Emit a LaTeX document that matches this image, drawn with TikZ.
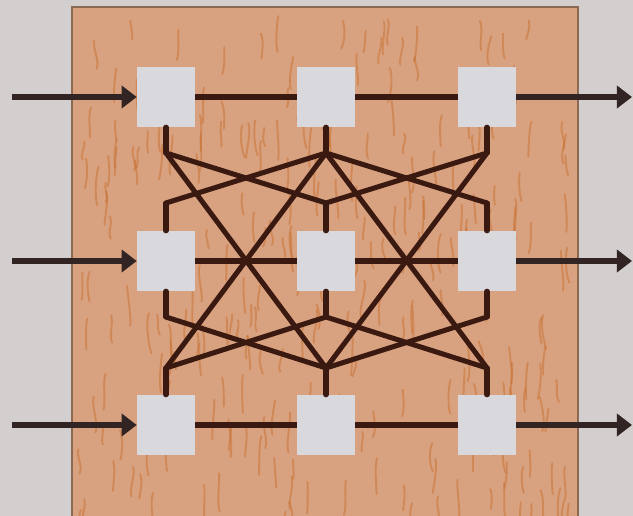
\documentclass[tikz,border=0pt]{standalone}
\usetikzlibrary{arrows.meta}
\definecolor{paper}{HTML}{D3CFCE}
\definecolor{board}{HTML}{D8A17F}
\definecolor{grain}{HTML}{C8702F}
\definecolor{tile}{HTML}{D9D8DC}
\definecolor{wirec}{HTML}{3A1911}
\definecolor{arrowc}{HTML}{332424}
\tikzset{
  cell/.style={fill=tile, minimum width=1.74cm, minimum height=1.8cm, inner sep=0pt},
  wire/.style={wirec, line width=4.3pt, line cap=round, line join=round},
  rowline/.style={wirec, line width=5.5pt},
  feed/.style={arrowc, line width=5.5pt, -{Triangle[length=13pt, width=19pt]}}
}
\begin{document}
\begin{tikzpicture}[x=0.03cm, y=-0.03cm]
  % page and board
  \fill[paper] (0,0) rectangle (633,516);
  \useasboundingbox (0,0) rectangle (633,516);
  \fill[board, draw=black!35!board, line width=1.5pt] (72,7) rectangle (578,530);
  \pgfmathsetseed{11}
  \foreach \k in {1,...,260}{
    \pgfmathsetmacro\sx{78+rnd*495}
    \pgfmathsetmacro\sy{12+rnd*500}
    \draw[grain, opacity=0.5, line width=1.6pt, line cap=round]
      (\sx,\sy) .. controls +(rnd*8-4,8) and +(rnd*8-4,-8) .. +(rnd*6-3,18+rnd*22);
  }
  % cells: row r, column c
  \foreach \r/\y in {1/97,2/261,3/425}
    \foreach \c/\x in {1/166,2/326,3/487}
      \node[cell] (n\r\c) at (\x,\y) {};
  % stub ends
  \foreach \c/\x in {1/166,2/326,3/487}{
    \coordinate (a\c) at (\x,153);
    \coordinate (b\c) at (\x,203);
    \coordinate (e\c) at (\x,317);
    \coordinate (d\c) at (\x,368);
  }
  \coordinate (in1) at (12,97);  \coordinate (out1) at (632,97);
  \coordinate (in2) at (12,261); \coordinate (out2) at (632,261);
  \coordinate (in3) at (12,425); \coordinate (out3) at (632,425);
  % links between the rows
  \foreach \c in {1,2,3}{
    \draw[wire] (n1\c.south) -- (a\c);
    \draw[wire] (n2\c.north) -- (b\c);
    \draw[wire] (n2\c.south) -- (e\c);
    \draw[wire] (n3\c.north) -- (d\c);
  }
  \foreach \i/\j in {1/2,2/1,2/3,3/2}{
    \draw[wire] (a\i) -- (b\j);
    \draw[wire] (a\i) -- (d\j);
    \draw[wire] (e\i) -- (d\j);
  }
  % rows, inputs and outputs
  \foreach \r in {1,2,3}{
    \draw[rowline] (n\r1) -- (n\r2) -- (n\r3);
    \draw[feed] (in\r) -- (n\r1.west);
    \draw[feed] (n\r3.east) -- (out\r);
  }
\end{tikzpicture}
\end{document}
